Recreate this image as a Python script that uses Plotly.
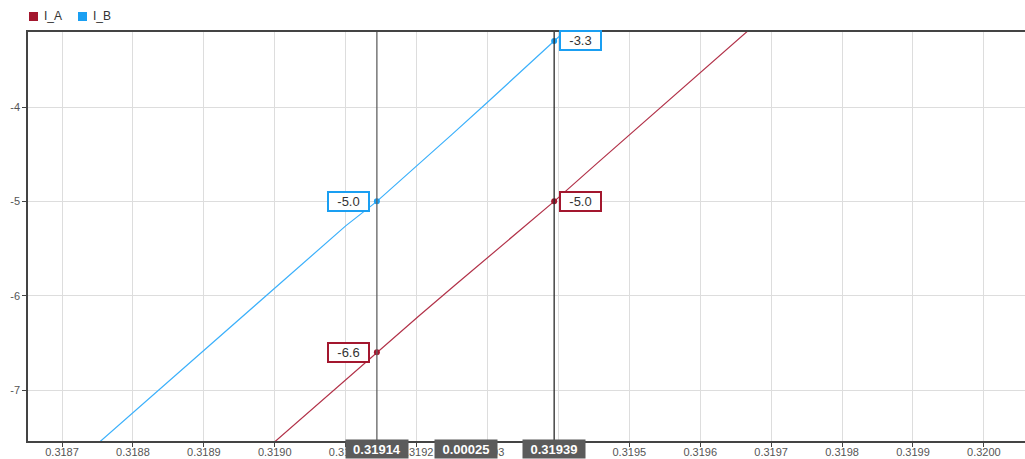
import plotly.graph_objects as go

# Sampled waveform data (time in s, current in A)
t_b = [0.31870, 0.31875, 0.31880, 0.31885, 0.31890, 0.31895, 0.31900, 0.31905,
       0.31910, 0.319144, 0.31920, 0.31925, 0.31930, 0.31935, 0.319394, 0.31945]
i_b = [-7.90, -7.57, -7.24, -6.91, -6.58, -6.25, -5.92, -5.59,
       -5.26, -5.00, -4.63, -4.29, -3.95, -3.60, -3.30, -2.92]

t_a = [0.318954, 0.319004, 0.319054, 0.319104, 0.319144, 0.319204, 0.319254, 0.319304,
       0.319354, 0.319394, 0.319454, 0.319504, 0.319554, 0.319604, 0.319654, 0.319704]
i_a = [-7.85, -7.52, -7.19, -6.86, -6.60, -6.21, -5.89, -5.57,
       -5.26, -5.00, -4.60, -4.27, -3.94, -3.61, -3.28, -2.95]

series_names = ["I_A", "I_B"]
line_colors = ["#b23249", "#3bb0fb"]
dot_colors = ["#a3172e", "#1a9ff2"]

# Cursor positions and the values read there
cursor_t = [0.319144, 0.319394]
cursor_a = [-6.6, -5.0]
cursor_b = [-5.0, -3.3]

x_ticks = [0.3187, 0.3188, 0.3189, 0.3190, 0.3191, 0.3192, 0.3193,
           0.3194, 0.3195, 0.3196, 0.3197, 0.3198, 0.3199, 0.3200]
y_ticks = [-7, -6, -5, -4]

font_family = "Liberation Sans, Arial, sans-serif"

fig = go.Figure()
fig.add_trace(go.Scatter(x=t_a, y=i_a, mode="lines", name=series_names[0],
                         line=dict(color=line_colors[0], width=1.2), showlegend=False))
fig.add_trace(go.Scatter(x=t_b, y=i_b, mode="lines", name=series_names[1],
                         line=dict(color=line_colors[1], width=1.2), showlegend=False))
fig.add_trace(go.Scatter(x=cursor_t, y=cursor_a, mode="markers", showlegend=False,
                         marker=dict(color=dot_colors[0], size=6)))
fig.add_trace(go.Scatter(x=cursor_t, y=cursor_b, mode="markers", showlegend=False,
                         marker=dict(color=dot_colors[1], size=6)))

shapes = []
# Cursor lines
for tc, col in zip(cursor_t, ["#626262", "#2a2a2a"]):
    shapes.append(dict(type="line", xref="x", yref="paper", x0=tc, x1=tc, y0=0, y1=1,
                       line=dict(color=col, width=1.3)))

annotations = []
# Value labels at the cursors
label_specs = [
    (cursor_t[0], cursor_a[0], dot_colors[0], "right"),
    (cursor_t[1], cursor_a[1], dot_colors[0], "left"),
    (cursor_t[0], cursor_b[0], dot_colors[1], "right"),
    (cursor_t[1], cursor_b[1], dot_colors[1], "left"),
]
for tx, vy, col, side in label_specs:
    annotations.append(dict(
        x=tx, y=vy, xref="x", yref="y", text=f"{vy:.1f}", showarrow=False,
        xanchor=side, yanchor="middle", xshift=5 if side == "left" else -7,
        width=37, height=15, align="center",
        bgcolor="white", bordercolor=col, borderwidth=2, borderpad=1,
        font=dict(family=font_family, size=13, color="#333333")))

# Cursor time readouts
readouts = [(cursor_t[0], f"{cursor_t[0]:.5f}"),
            ((cursor_t[0] + cursor_t[1]) / 2, f"{cursor_t[1] - cursor_t[0]:.5f}"),
            (cursor_t[1], f"{cursor_t[1]:.5f}")]
for tx, txt in readouts:
    annotations.append(dict(
        x=tx, y=0, xref="x", yref="paper", text=f"<b>{txt}</b>", showarrow=False,
        xanchor="center", yanchor="top", width=60, height=16, yshift=2,
        bgcolor="#5b5b5b", borderpad=1,
        font=dict(family=font_family, size=13, color="white")))

# Legend drawn as swatches with labels
legend_x = [0, 49]
for k, (name, col) in enumerate(zip(series_names, dot_colors)):
    shapes.append(dict(type="rect", xref="paper", yref="paper",
                       x0=(legend_x[k] + 1) / 997, x1=(legend_x[k] + 10) / 997,
                       y0=1 + 11 / 409, y1=1 + 20 / 409,
                       fillcolor=col, line=dict(width=0)))
    annotations.append(dict(
        x=(legend_x[k] + 14) / 997, y=1 + 16 / 409, xref="paper", yref="paper",
        text=name, showarrow=False, xanchor="left", yanchor="middle",
        font=dict(family=font_family, size=12, color="#333333")))

fig.update_layout(
    width=1025, height=459,
    margin=dict(l=28, r=0, t=32, b=18),
    paper_bgcolor="white", plot_bgcolor="white",
    showlegend=False,
    shapes=shapes, annotations=annotations,
    font=dict(family=font_family, size=11, color="#555555"),
    xaxis=dict(range=[0.318652, 0.320058], tickvals=x_ticks,
               ticktext=[f"{v:.4f}" for v in x_ticks], automargin=False,
               showgrid=True, gridcolor="#dddddd", gridwidth=1,
               showline=True, linecolor="#444444", linewidth=1.5, mirror=True,
               ticks="outside", ticklen=4, tickcolor="#444444",
               ticklabelstandoff=-4,
               zeroline=False, tickfont=dict(size=11, color="#555555")),
    yaxis=dict(range=[-7.54, -3.205], tickvals=y_ticks,
               ticktext=[str(v) for v in y_ticks], automargin=False,
               showgrid=True, gridcolor="#dddddd", gridwidth=1,
               showline=True, linecolor="#444444", linewidth=1.5,
               ticks="outside", ticklen=4, tickcolor="#444444",
               zeroline=False, tickfont=dict(size=11, color="#555555")),
)

fig.write_html("out.html")
